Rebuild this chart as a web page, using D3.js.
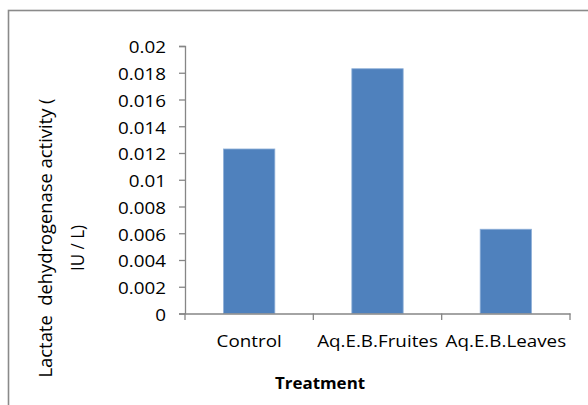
<!DOCTYPE html>
<html>
<head>
<meta charset="utf-8">
<script src="https://cdn.jsdelivr.net/npm/d3@7"></script>
<style>
  html, body { margin: 0; padding: 0; background: #fff; }
  svg { display: block; }
  text { font-family: "Open Sans", "Liberation Sans", sans-serif; fill: #000; }
</style>
</head>
<body>
<div id="chart"></div>
<script>
// Lactate dehydrogenase activity by treatment
const categories = ["Control", "Aq.E.B.Fruites", "Aq.E.B.Leaves"];
const ldhValues = [0.0123, 0.0183, 0.0063];
const yTickValues = [0, 0.002, 0.004, 0.006, 0.008, 0.01, 0.012, 0.014, 0.016, 0.018, 0.02];
const yTitleLines = ["Lactate  dehydrogenase activity (", "IU / L)"];
const xTitle = "Treatment";

const W = 588, H = 405;
const plot = { left: 185, right: 570, top: 46, bottom: 313.5 };
const axisColor = "#868686";
const barColor = "#4F81BD";
const stretch = 1.14; // horizontal widening of label glyphs

const svg = d3.select("#chart").append("svg")
  .attr("width", W).attr("height", H);

// chart frame
svg.append("rect")
  .attr("x", 8.5).attr("y", 10.5)
  .attr("width", W + 20).attr("height", H + 20)
  .attr("fill", "#fff")
  .attr("stroke", "#8a8a8a").attr("stroke-width", 1.6);

const x = d3.scaleBand()
  .domain(categories)
  .range([plot.left, plot.right])
  .paddingInner(0.6)
  .paddingOuter(0.3);

const y = d3.scaleLinear()
  .domain([0, 0.02])
  .range([plot.bottom, plot.top]);

// bars
svg.append("g").selectAll("rect")
  .data(categories.map((c, i) => ({ c, v: ldhValues[i] })))
  .join("rect")
  .attr("x", d => x(d.c))
  .attr("width", x.bandwidth())
  .attr("y", d => y(d.v))
  .attr("height", d => y(0) - y(d.v))
  .attr("fill", barColor)
  .attr("stroke", "#8fb0d8").attr("stroke-width", 0.8);

// y axis
const yAxis = svg.append("g")
  .attr("transform", `translate(${plot.left},0)`)
  .call(d3.axisLeft(y)
    .tickValues(yTickValues)
    .tickSize(6)
    .tickPadding(13)
    .tickFormat(d => String(+d.toFixed(3))));
yAxis.select(".domain").attr("stroke", axisColor).attr("stroke-width", 1.3);
yAxis.selectAll(".tick line").attr("stroke", axisColor).attr("stroke-width", 1.3);
yAxis.selectAll(".tick text")
  .attr("font-size", 16.5)
  .attr("font-family", "\"Open Sans\", sans-serif")
  .attr("fill", "#000")
  .attr("dy", "0.42em")
  .attr("x", -19 / stretch)
  .attr("transform", `scale(${stretch},1)`);

// x axis: labels centred on bands
const xAxis = svg.append("g")
  .attr("transform", `translate(0,${plot.bottom})`)
  .call(d3.axisBottom(x).tickSize(0).tickPadding(22));
xAxis.select(".domain").attr("stroke", axisColor).attr("stroke-width", 1.3);
xAxis.selectAll(".tick text")
  .attr("font-size", 16.5)
  .attr("font-family", "\"Open Sans\", sans-serif")
  .attr("fill", "#000")
  .attr("transform", `scale(${stretch},1)`);

// category boundary ticks
const step = x.step();
const boundaries = [plot.left].concat(categories.map(c => x(c) + x.bandwidth() + step * x.paddingInner() / 2));
boundaries[boundaries.length - 1] = plot.right;
svg.append("g").selectAll("line")
  .data(boundaries)
  .join("line")
  .attr("x1", d => d).attr("x2", d => d)
  .attr("y1", plot.bottom).attr("y2", plot.bottom + 6.5)
  .attr("stroke", axisColor).attr("stroke-width", 1.3);

// x title
svg.append("text")
  .attr("transform", `translate(320,389) scale(1.06,1)`)
  .attr("text-anchor", "middle")
  .attr("font-size", 16)
  .attr("font-weight", "bold")
  .text(xTitle);

// y title, two lines
const yTitlePos = [{ bx: 52, cy: 238, len: 279 }, { bx: 84, cy: 248, len: null }];
svg.append("g").selectAll("text")
  .data(yTitleLines)
  .join("text")
  .attr("transform", (d, i) => `translate(${yTitlePos[i].bx},${yTitlePos[i].cy}) rotate(-90) scale(1,1.12)`)
  .attr("text-anchor", "middle")
  .attr("font-size", 17)
  .style("white-space", "pre")
  .attr("textLength", (d, i) => yTitlePos[i].len)
  .attr("lengthAdjust", "spacingAndGlyphs")
  .text(d => d);
</script>
</body>
</html>
